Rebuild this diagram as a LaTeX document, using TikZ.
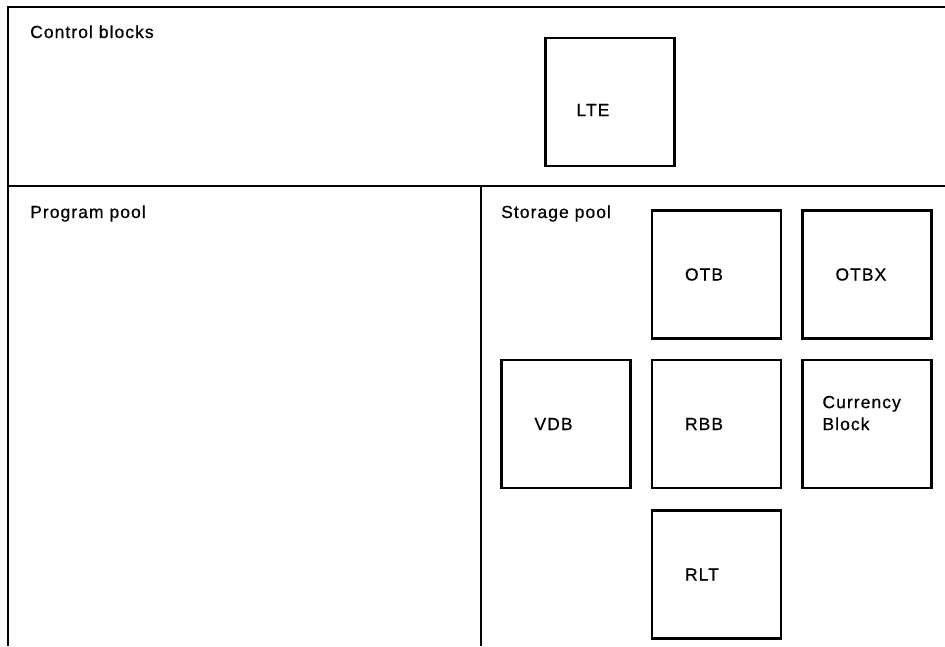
\documentclass[tikz,border=0pt]{standalone}
\usepackage{fontspec}
\setmainfont{Liberation Sans}[LetterSpace=6,FakeBold=0.6]
\usetikzlibrary{positioning}

\begin{document}
\begin{tikzpicture}[
  x=1pt,y=-1pt,
  font=\fontsize{17.5}{22}\selectfont,
  frame/.style={line width=2.6pt},
  blk/.style={draw,line width=2.6pt,minimum width=129pt,minimum height=128pt,
              text width=63pt,align=left,inner sep=0pt},
  sec/.style={anchor=base west,inner sep=0pt}
]
\useasboundingbox (0,0) rectangle (945,646);
% ---- frame ----
\coordinate (tl) at (8,7);
\coordinate (tr) at (945,7);
\coordinate (bl) at (8,646);
\coordinate (ml) at (8,186);
\coordinate (mr) at (945,186);
\coordinate (mt) at (481,186);
\coordinate (mb) at (481,646);
\draw[frame] (tr) -- (tl) -- (bl);
\draw[frame] (ml) -- (mr);
\draw[frame] (mt) -- (mb);
% ---- section titles ----
\node[sec] (ctl)  at (30,38)  {Control blocks};
\node[sec] (prog) at (30,218) {Program pool};
\node[sec] (stor) at (501,218) {Storage pool};
% ---- blocks ----
\node[blk,text width=67pt,text height=28pt,text depth=0pt] (lte) at (610,102) {LTE};
\node[blk] (otb)  at (716.5,274.5) {OTB};
\node[blk] (otbx) at (867,274.5)   {OTBX};
\node[blk] (vdb)  at (566,424)     {VDB};
\node[blk] (rbb)  at (716.5,424)   {RBB};
\node[blk,text width=89pt] (cur) at (867,424) {Currency\\Block\\\mbox{}};
\node[blk] (rlt)  at (716.5,574.5) {RLT};
\end{tikzpicture}
\end{document}
